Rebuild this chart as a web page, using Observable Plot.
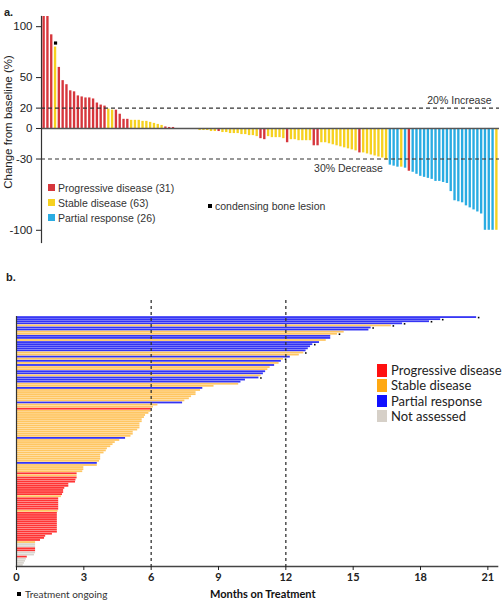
<!DOCTYPE html>
<html><head><meta charset="utf-8">
<script src="https://cdn.jsdelivr.net/npm/d3@7"></script>
<script src="https://cdn.jsdelivr.net/npm/@observablehq/plot@0.6"></script>
<style>
body{margin:0;background:#fff;}
#wrap{position:relative;width:502px;height:600px;overflow:hidden;font-family:"Liberation Sans",Arial,sans-serif;color:#222;}
#wrap svg{position:absolute;left:0;}
.t{position:absolute;white-space:nowrap;line-height:14px;}
.sq{position:absolute;}
</style></head><body><div id="wrap"></div>
<script>
// ---------- Panel a: waterfall (best % change from baseline) ----------
const waterfallValues = [112,112,92,80,60,47,43,37,36,32, 31,30,30,29,25,23,22,19,18,18,
  14,9,9,8,8,8,7,7,6,5, 4,3,1.5,1,1,0,0,0,0,0, 0,-2,-2,-2,-3,-3,-3,-4,-4,-5,
  -5,-5,-6,-6,-7,-7,-8,-10,-11,-8, -9,-9,-9,-10,-14,-11,-11,-12,-12,-12,
  -12,-17,-17,-14,-14,-15,-16,-17,-18,-19, -20,-21,-22,-24,-24,-25,-26,-27,-28,-29,
  -31,-36,-37,-38,-38,-39,-42,-43,-45,-47, -48,-49,-50,-52,-52,-53,-54,-62,-71,-72,
  -73,-76,-78,-80,-82,-84,-100,-100,-100,-100];
const waterfallResponse = ("PPPSPPPPPP"+"PPPPPPPSSP"+"PPPSSSSSSS"+"SSPPPSSSSS"+"SSSSSSPSSS"+"SSSSSSSPPS"+
  "SSSSPSSSSS"+"SPPSSSSSSS"+"SSSPSSSSSS"+"SRRRSRPRRR"+"RRRRRRRRRR"+"RRRRRRRRRS").split("");
const waterfallCategories = ["P","S","R"];
const waterfallColors = ["#d6363c","#f6d11f","#2aace2"];
const waterfallLegend = ["Progressive disease (31)","Stable disease (63)","Partial response (26)"];
const lesionIdx = [3];
const yTicks = [100,50,20,0,-30,-100];
const refLines = [20,-30];

// ---------- Panel b: swimmer (months on treatment) ----------
const swimMonths = [20.5,18.9,18.4,17.2,16.7,15.8,15.7,14.6,14.3,14.0,
  14.0,13.8,13.5,13.2,13.1,13.0,12.9,12.8,12.6,12.2,
  11.9,11.8,11.7,11.5,11.3,11.2,11.1,11.0,10.9,10.8,
  10.2,10.0,9.9,8.8,8.3,8.2,8.0,8.0,7.8,7.7,
  7.5,7.4,6.3,6.1,6.0,6.0,5.9,5.75,5.7,5.6,
  5.6,5.5,5.5,5.5,5.4,5.2,5.2,5.1,4.86,4.6,
  4.4,4.3,4.2,4.05,4.0,3.9,3.75,3.75,3.75,3.7,
  3.6,3.6,3.0,3.0,2.95,2.7,2.7,2.7,2.65,2.63,
  2.33,2.33,2.15,2.1,2.1,2.05,2.0,1.88,1.88,1.88,
  1.88,1.88,1.88,1.85,1.82,1.82,1.82,1.82,1.82,1.82,
  1.82,1.82,1.82,1.82,1.6,1.3,1.25,1.07,0.85,0.85,
  0.85,0.85,0.85,0.85,0.8,0.48,0.44,0.4,0.35,0.3];
const swimResponse = ("RRRRSRRSSR"+"RSRRRRRSSR"+"SRSRSSRRSR"+"RRSSRSSSSS"+"SRSSPSSSSS"+"SSSSSSSSRS"+
  "SSSSSSSSSS"+"RSSSSPSPPP"+"PPPPPPSPPP"+"PPPSPPPPPP"+"PPPPPPPPSN"+"NPPNNPNNNN").split("");
const swimOngoing = [0,1,2,3,4,5,8,13,17,20,29];
const swimCategories = ["P","S","R","N"];
const swimBarColors = ["#ff3434","#ffc662","#3434f4","#d8d4ce"];
const swimLegendColors = ["#ff1010","#ffa812","#1010ff","#d6d0c8"];
const swimLegend = ["Progressive disease","Stable disease","Partial response","Not assessed"];
const monthTicks = [0,3,6,9,12,15,18,21];
const milestoneMonths = [6,12];

const wrap = document.getElementById("wrap");
const font = "Liberation Sans, Arial, sans-serif";

// Panel a
const wf = waterfallValues.map((v,i)=>({i, v, r: waterfallResponse[i]}));
const topPlot = Plot.plot({
  width: 502, height: 250,
  marginLeft: 41, marginRight: 3, marginTop: 16, marginBottom: 8,
  x: {type: "band", domain: d3.range(waterfallValues.length), padding: 0.38, axis: null},
  y: {domain: [-112, 110]},
  color: {domain: waterfallCategories, range: waterfallColors},
  style: {fontFamily: font, fontSize: "11px", color: "#222", background: "transparent"},
  marks: [
    Plot.barY(wf, {x: "i", y: "v", fill: "r", clip: true}),
    Plot.ruleY(refLines, {stroke: "#333", strokeDasharray: "4,3", strokeWidth: 1.2}),
    Plot.ruleY([0], {stroke: "#555", strokeWidth: 1.6}),
    Plot.frame({anchor: "left", stroke: "#333", strokeWidth: 1.2}),
    Plot.axisY({ticks: yTicks, tickSize: 5, tickFormat: d => String(d), fontSize: 11.5, label: null}),
    Plot.dot(lesionIdx, {x: d => d, y: d => waterfallValues[d], symbol: "square", r: 1.8, fill: "#000", dy: -4}),
    Plot.text(["20% Increase"], {y: () => 20, frameAnchor: "right", textAnchor: "end", dx: -8, dy: -7, fontSize: 10.5, fill: "#333"}),
    Plot.text(["30% Decrease"], {x: () => 80, y: () => -30, textAnchor: "middle", dy: 10, fontSize: 10.5, fill: "#333"})
  ]
});
topPlot.style.top = "0px";
wrap.appendChild(topPlot);

// Panel b
const sw = swimMonths.map((m,i)=>({i, m, r: swimResponse[i]}));
const botPlot = Plot.plot({
  width: 502, height: 320,
  marginLeft: 16, marginRight: 5, marginTop: 20, marginBottom: 34,
  x: {domain: [0, 21.43]},
  y: {domain: [-7.7, swimMonths.length], reverse: true, axis: null},
  color: {domain: swimCategories, range: swimBarColors},
  style: {fontFamily: "Lato, sans-serif", fontSize: "11px", color: "#222", background: "transparent"},
  marks: [
    Plot.rect(sw, {x1: () => 0, x2: "m", y1: "i", y2: d => d.i + 1, fill: "r", insetTop: 0.15, insetBottom: 0.15}),
    Plot.ruleX(milestoneMonths, {stroke: "#333", strokeDasharray: "3,3", strokeWidth: 1.3}),
    Plot.ruleX([0], {y1: () => 0, y2: () => swimMonths.length, stroke: "#333", strokeWidth: 1.2}),
    Plot.frame({anchor: "bottom", stroke: "#444", strokeWidth: 1.6}),
    Plot.axisX({ticks: monthTicks, tickSize: 4, tickPadding: 3, fontSize: 11, fontWeight: "bold", label: null}),
    Plot.dot(swimOngoing, {x: d => swimMonths[d], y: d => d + 0.5, symbol: "square", r: 0.9, fill: "#000", dx: 2})
  ]
});
botPlot.style.top = "280px";
wrap.appendChild(botPlot);

// HTML text and legends
function addText(txt, left, cy, size, opts = {}) {
  const d = document.createElement("div");
  d.className = "t";
  d.textContent = txt;
  d.style.left = left + "px";
  d.style.top = (cy - 7) + "px";
  d.style.fontSize = size + "px";
  if (opts.bold) d.style.fontWeight = "bold";
  if (opts.family) d.style.fontFamily = opts.family;
  if (opts.color) d.style.color = opts.color;
  wrap.appendChild(d);
  return d;
}
function addSq(left, top, w, h, color) {
  const s = document.createElement("div");
  s.className = "sq";
  Object.assign(s.style, {left: left+"px", top: top+"px", width: w+"px", height: h+"px", background: color});
  wrap.appendChild(s);
}
addText("a.", 4, 12, 11, {bold: true});
addText("b.", 6, 277, 11, {bold: true});
// rotated y-axis title for panel a, centred at (8, 122)
const yl = addText("Change from baseline (%)", 0, 0, 11.5, {color: "#222"});
yl.style.left = "8px"; yl.style.top = "122px";
yl.style.transform = "translate(-50%,-50%) rotate(-90deg)";
waterfallLegend.forEach((t, k) => {
  const cy = 188 + k * 15;
  addSq(48, cy - 4, 7, 7, waterfallColors[k]);
  addText(t, 58, cy, 10.5, {color: "#333"});
});
addSq(208, 204, 4, 4, "#000");
addText("condensing bone lesion", 215, 206, 10.5, {color: "#333"});

swimLegend.forEach((t, k) => {
  const cy = 370 + k * 15.3;
  addSq(377, cy - 6, 10, 12.5, swimLegendColors[k]);
  addText(t, 391, cy, 13, {family: "Lato, sans-serif", color: "#222"});
});
addSq(17, 592, 4, 4, "#000");
addText("Treatment  ongoing", 25, 594, 10, {family: "Lato, sans-serif", color: "#333"});
addText("Months on Treatment", 210, 594, 11, {family: "Lato, sans-serif", bold: true, color: "#111"});
</script></body></html>
